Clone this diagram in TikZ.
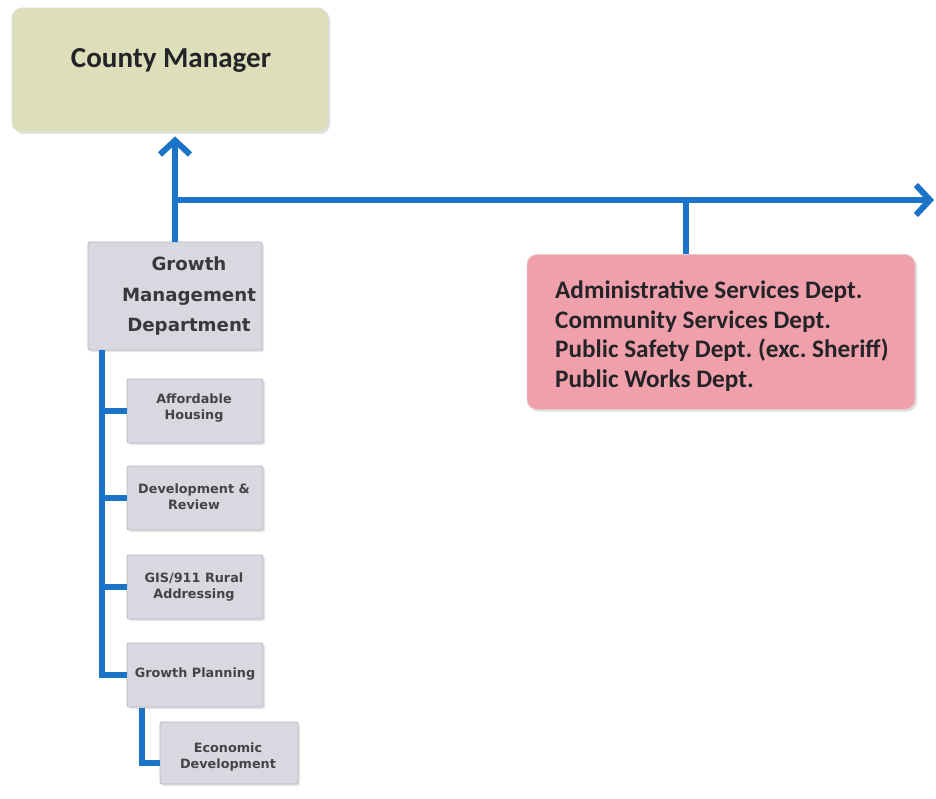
\documentclass[tikz,border=0pt]{standalone}
\usepackage{fontspec}
\setmainfont{Carlito}
\newfontfamily\verd{DejaVu Sans}
\usetikzlibrary{arrows.meta,shadows,calc}
\frenchspacing
\definecolor{cmfill}{RGB}{221,223,186}
\definecolor{gbfill}{RGB}{216,217,224}
\definecolor{pkfill}{RGB}{240,160,170}
\definecolor{lnblue}{RGB}{28,116,200}
\definecolor{txt}{RGB}{35,35,40}
\tikzset{
  box/.style={rounded corners=10pt, draw=#1!80!black!40, line width=0.8pt, drop shadow={opacity=0.25, shadow xshift=2pt, shadow yshift=-2pt}},
  cmbox/.style={box=cmfill, fill=cmfill},
  gbox/.style={rounded corners=2pt, fill=gbfill, draw=gbfill!85!black, line width=0.8pt, drop shadow={opacity=0.2, shadow xshift=2pt, shadow yshift=-2pt}},
  pkbox/.style={box=pkfill, fill=pkfill},
  conn/.style={draw=lnblue, line width=6pt},
  arr/.style={conn, -{Straight Barb[length=14pt, width=30pt, line width=6pt]}},
  small/.style={font=\verd\bfseries\fontsize{12.8}{16}\selectfont, text=txt!85!white, align=center},
}
\begin{document}
\begin{tikzpicture}[x=1pt,y=1pt]
\useasboundingbox (0,0) rectangle (936,-799);
\fill[white] (0,0) rectangle (936,-799);
% boxes
\node[cmbox, minimum width=316pt, minimum height=124pt] (cm) at (170,-70) {};
\node[font=\bfseries\fontsize{29}{34}\selectfont, text=txt] (cmt) at (171,-60) {County Manager};
\node[gbox, minimum width=174pt, minimum height=108pt] (gm) at (175,-296) {};
\node[font=\verd\bfseries\fontsize{18.2}{30.5}\selectfont, text=txt!90!white, align=center] (gmt) at (189,-296) {Growth\\Management\\Department};
\node[pkbox, minimum width=388pt, minimum height=155pt] (pk) at (721,-332) {};
\node[font=\bfseries\fontsize{25.2}{29.7}\selectfont, text=txt, align=left, anchor=west, inner sep=0pt] (pkt) at (555,-336) {Administrative Services Dept.\\Community Services Dept.\\Public Safety Dept. (exc. Sheriff)\\Public Works Dept.};
\node[gbox, minimum width=136pt, minimum height=64pt] (ah) at (195,-411) {};
\node[small] (aht) at (194,-408) {Affordable\\Housing};
\node[gbox, minimum width=136pt, minimum height=64pt] (dr) at (195,-498) {};
\node[small] (drt) at (194,-497) {Development \&\\Review};
\node[gbox, minimum width=136pt, minimum height=64pt] (gis) at (195,-587) {};
\node[small] (gist) at (194,-587) {GIS/911 Rural\\Addressing};
\node[gbox, minimum width=136pt, minimum height=64pt] (gp) at (195,-675) {};
\node[small] (gpt) at (195,-674) {Growth Planning};
\node[gbox, minimum width=138pt, minimum height=62pt] (ed) at (229,-753) {};
\node[small] (edt) at (228,-757) {Economic\\Development};
% connectors
\coordinate (junc) at (175,-200);
\coordinate (rend) at (934,-200);
\coordinate (drop) at (686,-200);
\coordinate (bus) at (102,-350);
\coordinate (sub) at (142,-708);
\draw[arr] (gm.north) -- ($(gm.north |- cm.south)+(0,-4)$);
\draw[arr] (junc) -- (rend);
\draw[conn] (drop) -- (drop |- pk.north);
\draw[conn] (bus) -- (bus |- gp.west) -- (gp.west);
\draw[conn] (bus |- ah.west) -- (ah.west);
\draw[conn] (bus |- dr.west) -- (dr.west);
\draw[conn] (bus |- gis.west) -- (gis.west);
\draw[conn] (sub) -- ($(sub |- ed.west)+(0,-10)$) -- ($(ed.west)+(0,-10)$);
\end{tikzpicture}
\end{document}
